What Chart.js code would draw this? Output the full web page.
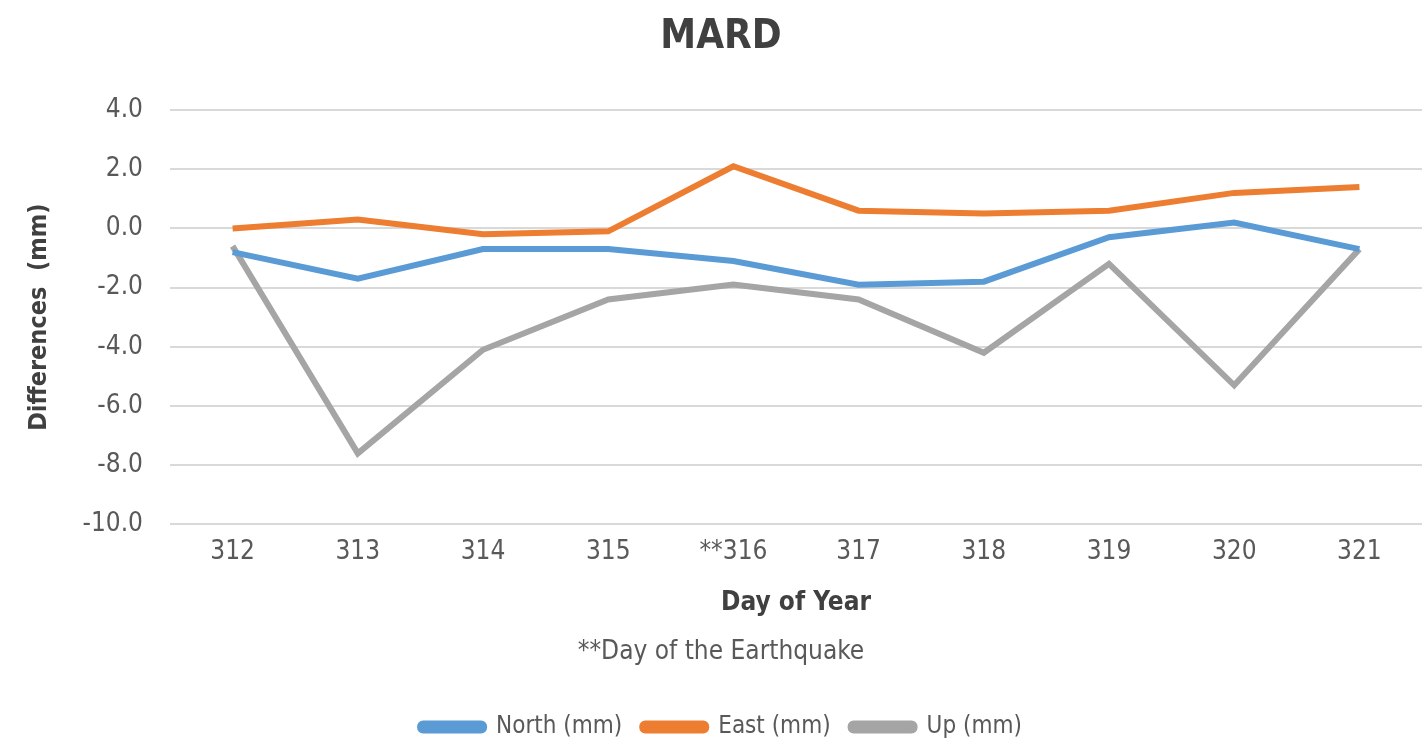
<!DOCTYPE html>
<html>
<head>
<meta charset="utf-8">
<script src="https://cdn.jsdelivr.net/npm/chart.js@4"></script>
<style>
  html, body { margin: 0; padding: 0; background: #ffffff; }
  #wrap { width: 1427px; height: 752px; }
</style>
</head>
<body>
<div id="wrap"><canvas id="graficoMard"></canvas></div>
<script>
// data
const dias = ['312', '313', '314', '315', '**316', '317', '318', '319', '320', '321'];
const norte = [-0.8, -1.7, -0.7, -0.7, -1.1, -1.9, -1.8, -0.3, 0.2, -0.7];
const leste = [0.0, 0.3, -0.2, -0.1, 2.1, 0.6, 0.5, 0.6, 1.2, 1.4];
const vertical = [-0.6, -7.6, -4.1, -2.4, -1.9, -2.4, -4.2, -1.2, -5.3, -0.7];
const yTicks = [-10, -8, -6, -4, -2, 0, 2, 4];

const fonte = "'Liberation Sans Narrow', 'DejaVu Sans Condensed', 'Roboto Condensed', 'Liberation Sans', sans-serif";

// =========================
// MARD
// =========================

const graficoMard = document.getElementById('graficoMard');

if (graficoMard) {

    const ctx = graficoMard.getContext('2d');

    new Chart(ctx, {
        type: 'line',
        data: {
            labels: dias,
            datasets: [
                {
                    label: 'North (mm)',
                    data: norte,
                    borderColor: '#5B9BD5',
                    backgroundColor: '#5B9BD5',
                    borderWidth: 6,
                    pointRadius: 0,
                    tension: 0
                },
                {
                    label: 'East (mm)',
                    data: leste,
                    borderColor: '#ED7D31',
                    backgroundColor: '#ED7D31',
                    borderWidth: 6,
                    pointRadius: 0,
                    tension: 0
                },
                {
                    label: 'Up (mm)',
                    data: vertical,
                    borderColor: '#A5A5A5',
                    backgroundColor: '#A5A5A5',
                    borderWidth: 6,
                    pointRadius: 0,
                    tension: 0
                }
            ]
        },
        options: {
            responsive: true,
            maintainAspectRatio: false,
            animation: false,
            layout: {
                padding: { left: 20, right: 5, top: 0, bottom: 3 }
            },
            scales: {
                y: {
                    min: -10,
                    max: 4,
                    afterBuildTicks: (scale) => {
                        scale.ticks = yTicks.map(v => ({ value: v }));
                    },
                    afterFit: (scale) => { scale.width = 150; },
                    grid: {
                        color: '#d9d9d9',
                        lineWidth: 2,
                        drawTicks: false
                    },
                    border: { display: false },
                    ticks: {
                        color: '#595959',
                        padding: 27,
                        font: { family: fonte, size: 26 },
                        callback: (value) => Number(value).toFixed(1)
                    },
                    title: {
                        display: true,
                        text: 'Differences  (mm)',
                        color: '#404040',
                        padding: { top: 4, bottom: 0 },
                        font: { family: fonte, size: 25, weight: 'bold' }
                    }
                },
                x: {
                    offset: true,
                    grid: {
                        display: false,
                        drawTicks: false
                    },
                    border: { display: false },
                    ticks: {
                        color: '#595959',
                        padding: 12,
                        font: { family: fonte, size: 26 }
                    },
                    title: {
                        display: true,
                        text: 'Day of Year',
                        color: '#404040',
                        padding: { top: 8, bottom: 4 },
                        font: { family: fonte, size: 26, weight: 'bold' }
                    }
                }
            },
            plugins: {
                title: {
                    display: true,
                    text: 'MARD',
                    color: '#404040',
                    padding: { top: 14, bottom: 48 },
                    font: { family: fonte, size: 40, weight: 'bold' }
                },
                subtitle: {
                    display: true,
                    position: 'bottom',
                    text: '**Day of the Earthquake',
                    color: '#595959',
                    padding: { top: 14, bottom: 27 },
                    font: { family: fonte, size: 26, weight: 'normal' }
                },
                legend: {
                    display: true,
                    position: 'bottom',
                    weight: 3000,
                    labels: {
                        color: '#595959',
                        boxWidth: 64,
                        boxHeight: 7,
                        useBorderRadius: true,
                        borderRadius: 3,
                        padding: 20,
                        font: { family: fonte, size: 24 }
                    }
                },
                tooltip: { enabled: false }
            }
        }
    });
}
</script>
</body>
</html>
